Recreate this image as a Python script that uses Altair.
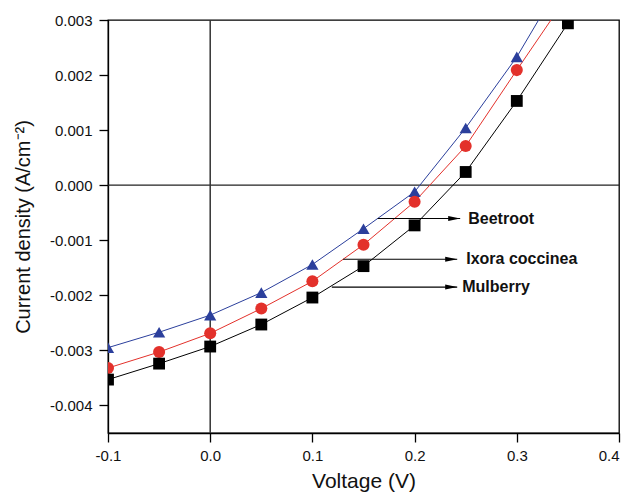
import altair as alt
import pandas as pd

voltage = [-0.1, -0.05, 0.0, 0.05, 0.1, 0.15, 0.2, 0.25, 0.3, 0.35]
beetroot = [-0.00295, -0.00267, -0.00236, -0.00195, -0.00144, -0.00079, -0.00012, 0.00104, 0.00233, 0.0039]
ixora = [-0.00332, -0.00303, -0.00269, -0.00224, -0.001745, -0.00108, -0.00030, 0.00071, 0.00209, 0.00345]
mulberry = [-0.00353, -0.00324, -0.00293, -0.00253, -0.00204, -0.00147, -0.00073, 0.00024, 0.00153, 0.00294]

series_names = ["Beetroot", "Ixora coccinea", "Mulberry"]
series_colors = ["#2b3f9c", "#e3312b", "#000000"]
series_shapes = ["triangle-up", "circle", "square"]
series_sizes = [150, 140, 105]

ann_labels = ["Beetroot", "Ixora coccinea", "Mulberry"]
ann_x_start = [0.164, 0.130, 0.119]
ann_x_end = [0.2446, 0.2417, 0.2417]
ann_text_x = [0.2525, 0.2505, 0.2466]
ann_y = [-0.000605, -0.001345, -0.00185]

rows = []
for name, vals in zip(series_names, [beetroot, ixora, mulberry]):
    for v, j in zip(voltage, vals):
        rows.append({"V": v, "J": j, "series": name})
df = pd.DataFrame(rows)

ann = pd.DataFrame({"label": ann_labels, "x0": ann_x_start, "x1": ann_x_end,
                    "tx": ann_text_x, "y": ann_y})

xscale = alt.Scale(domain=[-0.1, 0.4], nice=False, zero=False)
yscale = alt.Scale(domain=[-0.0045, 0.003], nice=False, zero=False)
color = alt.Color("series:N", scale=alt.Scale(domain=series_names, range=series_colors), legend=None)
shape = alt.Shape("series:N", scale=alt.Scale(domain=series_names, range=series_shapes), legend=None)
size = alt.Size("series:N", scale=alt.Scale(domain=series_names, range=series_sizes), legend=None)

xaxis = alt.Axis(values=[-0.1, 0.0, 0.1, 0.2, 0.3, 0.4], title="Voltage (V)",
                 labelExpr="datum.value < -1e-9 ? '-' + format(-datum.value, '.1f') : format(abs(datum.value), '.1f')",
                 labelAlign={"condition": {"test": "datum.value > 0.35", "value": "right"}, "value": "center"},
                 titlePadding=7, labelPadding=6, labelFlush=False, titleFontSize=21)
yaxis = alt.Axis(values=[-0.004, -0.003, -0.002, -0.001, 0.0, 0.001, 0.002, 0.003],
                 labelExpr="datum.value < -1e-9 ? '-' + format(-datum.value, '.3f') : format(abs(datum.value), '.3f')",
                 title="Current density (A/cm⁻²)", titlePadding=16, labelPadding=7, labelFlush=False,
                 titleFontSize=20)

base = alt.Chart(df)

zero_h = alt.Chart(pd.DataFrame({"y": [0.0]})).mark_rule(color="#222", strokeWidth=1.3).encode(
    y=alt.Y("y:Q", scale=yscale, axis=yaxis))
zero_v = alt.Chart(pd.DataFrame({"x": [0.0]})).mark_rule(color="#333", strokeWidth=1.5).encode(
    x=alt.X("x:Q", scale=xscale, axis=xaxis))

lines = base.mark_line(strokeWidth=1, clip=True).encode(
    x=alt.X("V:Q", scale=xscale, axis=xaxis),
    y=alt.Y("J:Q", scale=yscale, axis=yaxis),
    color=color, detail="series:N")

points = base.mark_point(filled=True, opacity=1, clip=True).encode(
    x=alt.X("V:Q", scale=xscale),
    y=alt.Y("J:Q", scale=yscale),
    color=color, shape=shape, size=size)

arrows = alt.Chart(ann).mark_rule(color="black", strokeWidth=1.2).encode(
    x=alt.X("x0:Q", scale=xscale), x2="x1:Q", y=alt.Y("y:Q", scale=yscale))
heads = alt.Chart(ann).mark_point(shape="M -1,-0.42 L 1,0 L -1,0.42 Z", filled=True, color="black",
                                  opacity=1, size=144, xOffset=-6).encode(
    x=alt.X("x1:Q", scale=xscale), y=alt.Y("y:Q", scale=yscale))
texts = alt.Chart(ann).mark_text(align="left", baseline="middle", fontWeight="bold", fontSize=16,
                                 font="Liberation Sans", color="#111").encode(
    x=alt.X("tx:Q", scale=xscale), y=alt.Y("y:Q", scale=yscale), text="label:N")

chart = alt.layer(zero_h, zero_v, lines, points, arrows, heads, texts).properties(
    width=511, height=413,
    autosize=alt.AutoSizeParams(type="none"),
    padding={"left": 100, "top": 12, "right": 2, "bottom": 60},
).configure_view(stroke="black", strokeWidth=1.3).configure_axis(
    grid=False, domainColor="black", domainWidth=1.3, tickColor="black", tickWidth=1.3,
    tickSize=9, labelFont="Liberation Sans", labelFontSize=15, labelColor="#111",
    titleFont="Liberation Sans", titleFontWeight="normal", titleColor="#111")

chart.save("out.html", embed_options={"renderer": "svg", "actions": False})
